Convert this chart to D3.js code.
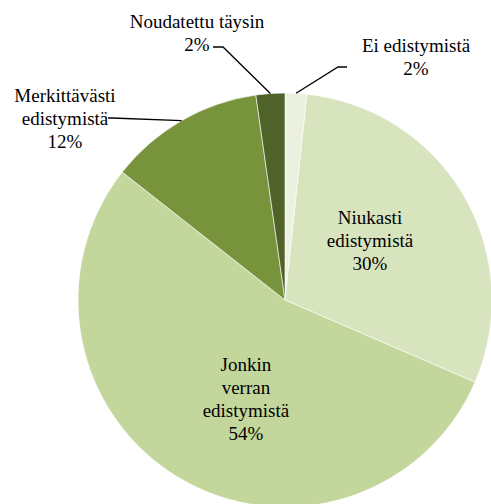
<!DOCTYPE html>
<html>
<head>
<meta charset="UTF-8">
<style>
body {
	margin: 0 ;
	background-color: #ffffff ;
}
</style>
<title>Edistyminen</title>
<script src="https://cdn.jsdelivr.net/npm/d3@7"></script>
</head>
<body>
<div id="chart"></div>
<script type="text/javascript" charset="utf-8">

	// data, clockwise from 12 o'clock
	const categories = [ "Ei edistymistä", "Niukasti edistymistä", "Jonkin verran edistymistä", "Merkittävästi edistymistä", "Noudatettu täysin" ] ;
	const values = [ 1.7, 29.8, 54.1, 12.15, 2.25 ] ;
	const labelLines = [
		[ "Ei edistymistä" ],
		[ "Niukasti", "edistymistä" ],
		[ "Jonkin", "verran", "edistymistä" ],
		[ "Merkittävästi", "edistymistä" ],
		[ "Noudatettu täysin" ]
	] ;
	const colors = [ "#ebf1de", "#d7e4bd", "#c3d69b", "#77933c", "#4f6228" ] ;

	const width = 491 ;
	const height = 504 ;
	const cx = 285 , cy = 300 , radius = 207 ;
	const lineH = 22.8 ;
	const fontFamily = "Liberation Serif, Times New Roman, serif" ;

	// outside labels: center x, first baseline, leader start and elbow
	const outside = {
		0: { x: 416, y: 52, lx: 347, ly: 67, ex: 338 },
		3: { x: 65, y: 102, lx: 108, ly: 118, ex: 112 },
		4: { x: 197, y: 28, lx: 213, ly: 47, ex: 223 }
	} ;
	// small nudges of the inside labels off the centroid
	const nudge = {
		1: { dx: -8, dy: -5 },
		2: { dx: 16, dy: 7 }
	} ;

	const svg = d3.select( "#chart" ).append( "svg" )
		.attr( "width", width )
		.attr( "height", height ) ;

	const pie = d3.pie().sort( null ).value( function(d) { return d ; } ) ;
	const arcs = pie( values ) ;
	const arc = d3.arc().innerRadius( 0 ).outerRadius( radius ) ;
	const labelArc = d3.arc().innerRadius( radius * 0.52 ).outerRadius( radius * 0.52 ) ;

	const g = svg.append( "g" ).attr( "transform", "translate(" + cx + "," + cy + ")" ) ;

	g.selectAll( "path.slice" )
		.data( arcs )
		.enter()
			.append( "path" )
				.attr( "class", "slice" )
				.attr( "d", arc )
				.attr( "fill", function(d, i) { return colors[i] ; } )
				.attr( "stroke", "#ffffff" )
				.attr( "stroke-width", 0.6 ) ;

	function pct( v ) { return Math.round( v ) + "%" ; }

	arcs.forEach( function(d, i) {
		const lines = labelLines[i].concat( [ pct( values[i] ) ] ) ;
		const o = outside[i] ;
		let x, y ;
		if( o ) {
			x = o.x ; y = o.y ;
			// leader line from label to the slice edge
			const mid = ( d.startAngle + d.endAngle ) / 2 ;
			const px = cx + radius * Math.sin( mid ) ;
			const py = cy - radius * Math.cos( mid ) ;
			svg.append( "polyline" )
				.attr( "points", [ [ o.lx, o.ly ], [ o.ex, o.ly ], [ px, py ] ].map( function(p) { return p.join( "," ) ; } ).join( " " ) )
				.attr( "fill", "none" )
				.attr( "stroke", "#000000" )
				.attr( "stroke-width", 1.3 ) ;
		} else {
			const c = labelArc.centroid( d ) ;
			const n = nudge[i] || { dx: 0, dy: 0 } ;
			x = cx + c[0] + n.dx ;
			y = cy + c[1] + n.dy - ( lines.length - 1 ) * lineH / 2 + 6 ;
		}
		const t = svg.append( "text" )
			.style( "font-family", fontFamily )
			.style( "font-size", "19px" )
			.attr( "fill", "#000000" )
			.attr( "text-anchor", "middle" ) ;
		lines.forEach( function(s, k) {
			t.append( "tspan" )
				.attr( "x", x )
				.attr( "y", y + k * lineH )
				.text( s ) ;
		}) ;
	}) ;
</script>
</body>
</html>
